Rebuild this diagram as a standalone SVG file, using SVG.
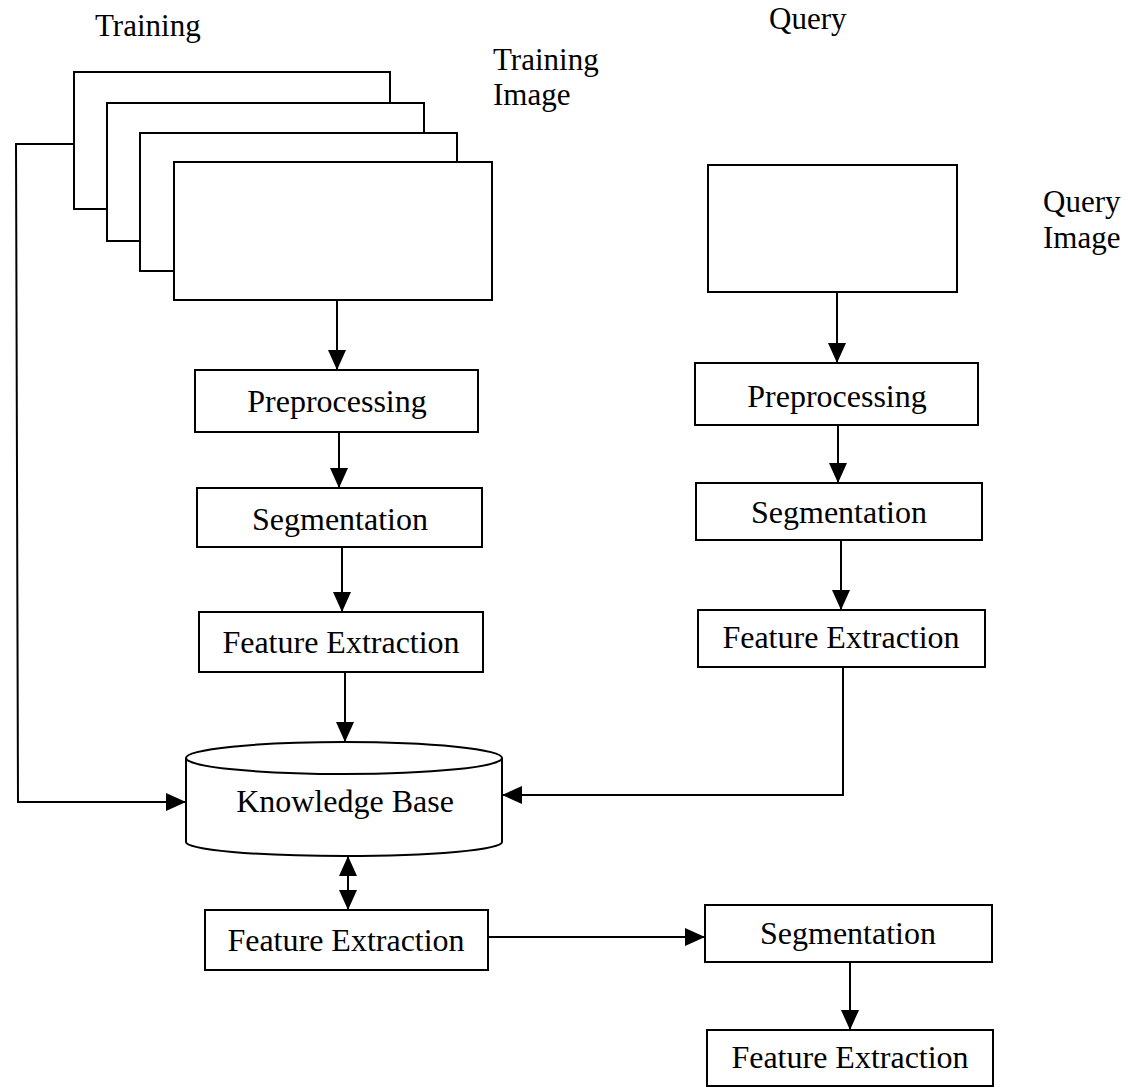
<svg xmlns="http://www.w3.org/2000/svg" width="1128" height="1089" viewBox="0 0 1128 1089">
<style>
  .box { fill: #fff; stroke: #000; stroke-width: 2; }
  .t { font-family: "Liberation Serif", "Times New Roman", serif; font-size: 32px; fill: #000; text-anchor: middle; }
  .lbl { font-family: "Liberation Serif", "Times New Roman", serif; font-size: 31px; fill: #000; }
  .conn { fill: none; stroke: #000; stroke-width: 2; }
</style>
<defs>
  <marker id="arr" markerUnits="userSpaceOnUse" markerWidth="20" markerHeight="18" refX="20" refY="9" orient="auto-start-reverse">
    <path d="M0,0 L20,9 L0,18 Z" fill="#000"/>
  </marker>
</defs>
<rect width="1128" height="1089" fill="#fff"/>

<g id="labels">
  <text class="lbl" x="95" y="36">Training</text>
  <text class="lbl" x="769" y="29">Query</text>
  <text class="lbl" x="493" y="70">Training</text>
  <text class="lbl" x="493" y="105">Image</text>
  <text class="lbl" x="1043" y="212">Query</text>
  <text class="lbl" x="1043" y="248">Image</text>
</g>

<g id="training-images">
  <rect class="box" x="74" y="72" width="316" height="137"/>
  <rect class="box" x="107" y="103" width="317" height="138"/>
  <rect class="box" x="140" y="133" width="317" height="138"/>
  <rect class="box" x="174" y="162" width="318" height="138"/>
</g>

<g id="query-image">
  <rect class="box" x="708" y="165" width="249" height="127"/>
</g>

<g id="connectors">
  <line class="conn" x1="337" y1="300" x2="337" y2="370" marker-end="url(#arr)"/>
  <line class="conn" x1="339" y1="432" x2="339" y2="488" marker-end="url(#arr)"/>
  <line class="conn" x1="342" y1="547" x2="342" y2="612" marker-end="url(#arr)"/>
  <line class="conn" x1="345" y1="672" x2="345" y2="742" marker-end="url(#arr)"/>
  <polyline class="conn" points="74,144 16,144 18,802 186,802" marker-end="url(#arr)"/>
  <line class="conn" x1="837" y1="292" x2="837" y2="363" marker-end="url(#arr)"/>
  <line class="conn" x1="838" y1="425" x2="838" y2="483" marker-end="url(#arr)"/>
  <line class="conn" x1="841" y1="540" x2="841" y2="610" marker-end="url(#arr)"/>
  <polyline class="conn" points="843,667 843,795 502,795" marker-end="url(#arr)"/>
  <line class="conn" x1="348" y1="856" x2="348" y2="910" marker-start="url(#arr)" marker-end="url(#arr)"/>
  <line class="conn" x1="488" y1="937" x2="705" y2="937" marker-end="url(#arr)"/>
  <line class="conn" x1="850" y1="962" x2="850" y2="1030" marker-end="url(#arr)"/>
</g>

<g id="pre-left">
  <rect class="box" x="195" y="370" width="283" height="62"/>
  <text class="t" x="337" y="412">Preprocessing</text>
</g>
<g id="seg-left">
  <rect class="box" x="197" y="488" width="285" height="59"/>
  <text class="t" x="340" y="530">Segmentation</text>
</g>
<g id="fe-left">
  <rect class="box" x="199" y="612" width="284" height="60"/>
  <text class="t" x="341" y="653">Feature Extraction</text>
</g>

<g id="knowledge-base">
  <path class="box" d="M186,758 A158,16 0 0 1 502,758 L502,842 A158,14 0 0 1 186,842 Z"/>
  <path class="conn" d="M186,758 A158,16 0 0 0 502,758"/>
  <text class="t" x="345" y="812">Knowledge Base</text>
</g>

<g id="pre-right">
  <rect class="box" x="695" y="363" width="283" height="62"/>
  <text class="t" x="837" y="407">Preprocessing</text>
</g>
<g id="seg-right">
  <rect class="box" x="696" y="483" width="286" height="57"/>
  <text class="t" x="839" y="523">Segmentation</text>
</g>
<g id="fe-right">
  <rect class="box" x="698" y="610" width="287" height="57"/>
  <text class="t" x="841" y="648">Feature Extraction</text>
</g>

<g id="fe-bottom">
  <rect class="box" x="205" y="910" width="283" height="60"/>
  <text class="t" x="346" y="951">Feature Extraction</text>
</g>
<g id="seg-bottom">
  <rect class="box" x="705" y="905" width="287" height="57"/>
  <text class="t" x="848" y="944">Segmentation</text>
</g>
<g id="fe-final">
  <rect class="box" x="707" y="1030" width="286" height="56"/>
  <text class="t" x="850" y="1068">Feature Extraction</text>
</g>
</svg>
